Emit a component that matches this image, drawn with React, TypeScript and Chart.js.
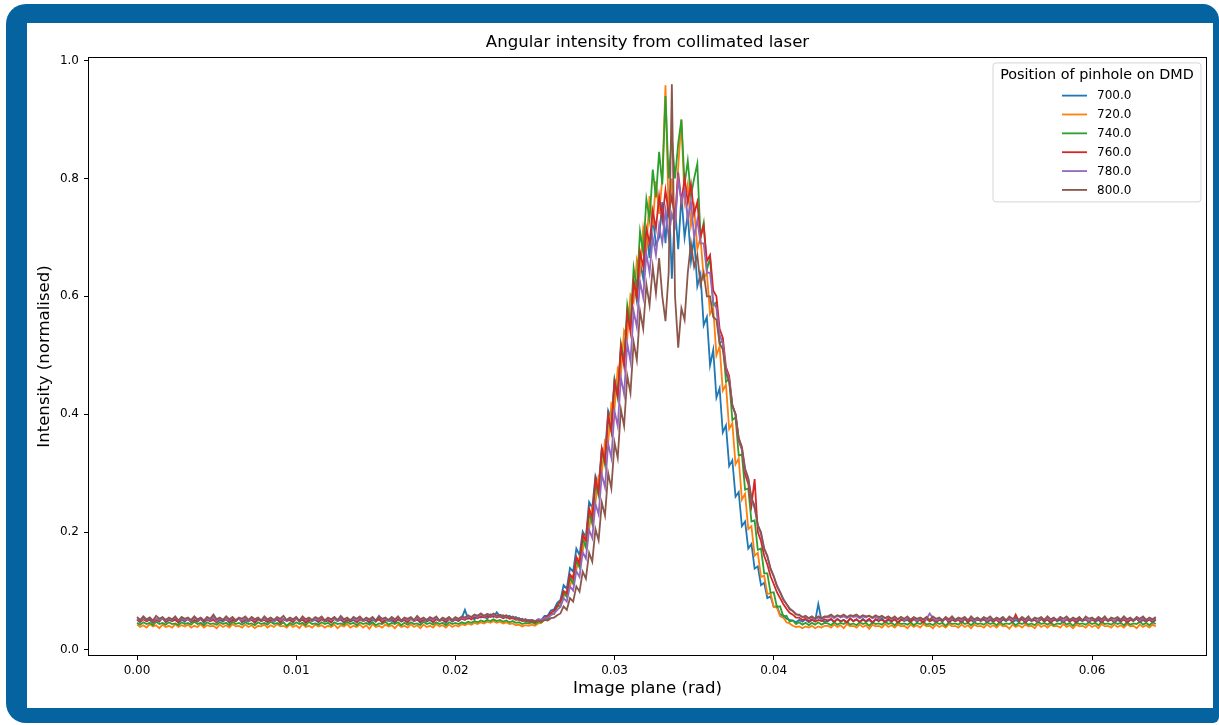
import React, { useEffect, useRef } from "react";
import { Chart, registerables } from "chart.js";

Chart.register(...registerables);

const FONT = "'DejaVu Sans', 'Liberation Sans', sans-serif";

const chartTitle = "Angular intensity from collimated laser";
const xAxisTitle = "Image plane (rad)";
const yAxisTitle = "Intensity (normalised)";
const legendTitle = "Position of pinhole on DMD";

const seriesLabels = ["700.0", "720.0", "740.0", "760.0", "780.0", "800.0"];
const seriesColors = ["#1f77b4", "#ff7f0e", "#2ca02c", "#d62728", "#9467bd", "#8c564b"];

// detector sample grid (rad): 321 samples from 0 to 0.064
const xStart = 0;
const xStep = 0.0002;

const xTickValues = [0, 0.01, 0.02, 0.03, 0.04, 0.05, 0.06];
const yTickValues = [0, 0.2, 0.4, 0.6, 0.8, 1.0];

const intensity700 = [
  // 0.0000 - 0.0198
  0.052, 0.047, 0.054, 0.049, 0.051, 0.046, 0.053, 0.048, 0.055, 0.047,
  0.051, 0.049, 0.053, 0.046, 0.052, 0.048, 0.054, 0.047, 0.050, 0.048,
  0.053, 0.046, 0.052, 0.049, 0.055, 0.047, 0.051, 0.048, 0.053, 0.046,
  0.052, 0.049, 0.054, 0.047, 0.050, 0.048, 0.053, 0.046, 0.052, 0.049,
  0.051, 0.047, 0.054, 0.048, 0.052, 0.046, 0.053, 0.049, 0.051, 0.047,
  0.055, 0.048, 0.052, 0.046, 0.053, 0.049, 0.051, 0.047, 0.054, 0.048,
  0.050, 0.047, 0.053, 0.049, 0.052, 0.046, 0.054, 0.048, 0.051, 0.047,
  0.053, 0.049, 0.051, 0.046, 0.052, 0.048, 0.055, 0.047, 0.052, 0.049,
  0.050, 0.046, 0.053, 0.048, 0.051, 0.047, 0.054, 0.049, 0.052, 0.046,
  0.053, 0.048, 0.051, 0.047, 0.054, 0.049, 0.052, 0.046, 0.053, 0.048,
  // 0.0200 - 0.0246
  0.052, 0.049, 0.054, 0.068, 0.053, 0.056, 0.052, 0.058, 0.055, 0.057, 0.053, 0.060,
  0.056, 0.064, 0.057, 0.059, 0.055, 0.058, 0.054, 0.056, 0.051, 0.053, 0.049, 0.051,
  // 0.0248 - 0.0432
  0.050, 0.047, 0.052, 0.051, 0.058, 0.058, 0.067, 0.069, 0.080, 0.085,
  0.110, 0.104, 0.139, 0.133, 0.172, 0.161, 0.201, 0.191, 0.251, 0.241,
  0.295, 0.279, 0.342, 0.333, 0.406, 0.391, 0.459, 0.439, 0.510, 0.489,
  0.570, 0.550, 0.624, 0.592, 0.659, 0.630, 0.710, 0.665, 0.735, 0.688,
  0.700, 0.760, 0.690, 0.780, 0.630, 0.750, 0.680, 0.770, 0.700, 0.740,
  0.660, 0.700, 0.617, 0.637, 0.551, 0.565, 0.483, 0.509, 0.428, 0.444,
  0.369, 0.381, 0.312, 0.322, 0.260, 0.268, 0.210, 0.218, 0.172, 0.180,
  0.138, 0.142, 0.110, 0.114, 0.088, 0.091, 0.073, 0.074, 0.060, 0.059,
  0.053, 0.051, 0.050, 0.047, 0.051, 0.048, 0.052, 0.047, 0.051, 0.049,
  0.078, 0.050, 0.048,
  // 0.0434 - 0.0640
  0.049, 0.052, 0.047, 0.053, 0.048, 0.051, 0.046, 0.054, 0.049, 0.052,
  0.047, 0.053, 0.048, 0.051, 0.046, 0.052, 0.049, 0.054, 0.047, 0.051,
  0.048, 0.053, 0.046, 0.052, 0.049, 0.051, 0.047, 0.054, 0.048, 0.052,
  0.046, 0.053, 0.049, 0.051, 0.047, 0.052, 0.048, 0.055, 0.047, 0.051,
  0.049, 0.052, 0.046, 0.053, 0.048, 0.051, 0.047, 0.054, 0.049, 0.052,
  0.047, 0.051, 0.048, 0.053, 0.046, 0.052, 0.049, 0.054, 0.047, 0.051,
  0.048, 0.053, 0.046, 0.052, 0.049, 0.051, 0.047, 0.053, 0.048, 0.052,
  0.046, 0.054, 0.049, 0.051, 0.047, 0.052, 0.048, 0.053, 0.046, 0.051,
  0.049, 0.052, 0.047, 0.054, 0.048, 0.051, 0.046, 0.053, 0.049, 0.052,
  0.047, 0.051, 0.048, 0.053, 0.046, 0.052, 0.049, 0.054, 0.047, 0.051,
  0.048, 0.053, 0.047, 0.051,
];

const intensity720 = [
  // 0.0000 - 0.0198
  0.043, 0.039, 0.042, 0.038, 0.044, 0.040, 0.042, 0.037, 0.043, 0.039,
  0.041, 0.038, 0.044, 0.039, 0.042, 0.040, 0.043, 0.038, 0.041, 0.039,
  0.044, 0.038, 0.042, 0.040, 0.041, 0.037, 0.043, 0.039, 0.042, 0.038,
  0.044, 0.040, 0.041, 0.038, 0.043, 0.039, 0.042, 0.037, 0.041, 0.040,
  0.043, 0.038, 0.042, 0.039, 0.044, 0.040, 0.041, 0.038, 0.043, 0.039,
  0.042, 0.037, 0.044, 0.039, 0.041, 0.038, 0.043, 0.040, 0.042, 0.038,
  0.041, 0.039, 0.043, 0.037, 0.042, 0.040, 0.044, 0.038, 0.041, 0.039,
  0.043, 0.038, 0.042, 0.036, 0.044, 0.039, 0.041, 0.038, 0.043, 0.040,
  0.042, 0.037, 0.043, 0.039, 0.041, 0.038, 0.044, 0.039, 0.042, 0.037,
  0.043, 0.039, 0.041, 0.038, 0.044, 0.040, 0.042, 0.038, 0.043, 0.039,
  // 0.0200 - 0.0246
  0.042, 0.040, 0.044, 0.042, 0.045, 0.043, 0.046, 0.044, 0.047, 0.045, 0.048, 0.046,
  0.049, 0.046, 0.048, 0.045, 0.047, 0.044, 0.045, 0.042, 0.043, 0.040, 0.042, 0.041,
  // 0.0248 - 0.0432
  0.043, 0.041, 0.045, 0.046, 0.051, 0.053, 0.061, 0.062, 0.073, 0.076,
  0.090, 0.100, 0.108, 0.128, 0.136, 0.158, 0.168, 0.196, 0.205, 0.243,
  0.250, 0.296, 0.300, 0.356, 0.352, 0.418, 0.410, 0.478, 0.468, 0.542,
  0.530, 0.602, 0.590, 0.662, 0.640, 0.715, 0.680, 0.770, 0.720, 0.795,
  0.740, 0.800, 0.958, 0.740, 0.800, 0.720, 0.820, 0.900, 0.760, 0.790,
  0.720, 0.750, 0.680, 0.700, 0.630, 0.640, 0.570, 0.580, 0.500, 0.515,
  0.440, 0.450, 0.375, 0.385, 0.315, 0.325, 0.255, 0.265, 0.205, 0.210,
  0.160, 0.165, 0.124, 0.126, 0.095, 0.096, 0.073, 0.072, 0.057, 0.055,
  0.047, 0.045, 0.041, 0.039, 0.040, 0.037, 0.040, 0.038, 0.041, 0.037,
  0.040, 0.038, 0.041,
  // 0.0434 - 0.0640
  0.041, 0.038, 0.043, 0.039, 0.042, 0.037, 0.044, 0.040, 0.041, 0.038,
  0.043, 0.039, 0.042, 0.036, 0.043, 0.040, 0.041, 0.038, 0.044, 0.039,
  0.042, 0.038, 0.043, 0.040, 0.041, 0.037, 0.043, 0.039, 0.042, 0.038,
  0.044, 0.040, 0.041, 0.037, 0.043, 0.039, 0.042, 0.038, 0.044, 0.040,
  0.041, 0.038, 0.043, 0.039, 0.042, 0.037, 0.043, 0.040, 0.041, 0.038,
  0.043, 0.039, 0.042, 0.038, 0.044, 0.040, 0.041, 0.036, 0.043, 0.039,
  0.042, 0.038, 0.043, 0.040, 0.041, 0.037, 0.044, 0.039, 0.042, 0.038,
  0.043, 0.040, 0.041, 0.038, 0.044, 0.039, 0.042, 0.037, 0.043, 0.040,
  0.041, 0.038, 0.043, 0.039, 0.042, 0.037, 0.044, 0.040, 0.041, 0.038,
  0.043, 0.039, 0.042, 0.038, 0.044, 0.040, 0.041, 0.037, 0.043, 0.039,
  0.042, 0.038, 0.043, 0.040,
];

const intensity740 = [
  // 0.0000 - 0.0198
  0.046, 0.043, 0.047, 0.044, 0.046, 0.042, 0.048, 0.044, 0.046, 0.043,
  0.047, 0.044, 0.045, 0.042, 0.047, 0.044, 0.046, 0.043, 0.048, 0.044,
  0.046, 0.042, 0.047, 0.044, 0.045, 0.043, 0.047, 0.044, 0.046, 0.042,
  0.048, 0.044, 0.046, 0.043, 0.047, 0.044, 0.045, 0.042, 0.047, 0.044,
  0.046, 0.043, 0.048, 0.044, 0.046, 0.043, 0.047, 0.041, 0.046, 0.043,
  0.047, 0.044, 0.046, 0.042, 0.048, 0.044, 0.045, 0.043, 0.047, 0.044,
  0.046, 0.042, 0.047, 0.044, 0.045, 0.043, 0.048, 0.044, 0.046, 0.042,
  0.047, 0.044, 0.046, 0.043, 0.047, 0.042, 0.045, 0.044, 0.048, 0.043,
  0.046, 0.044, 0.047, 0.042, 0.046, 0.043, 0.047, 0.044, 0.045, 0.042,
  0.048, 0.044, 0.046, 0.043, 0.047, 0.044, 0.046, 0.042, 0.047, 0.044,
  // 0.0200 - 0.0246
  0.046, 0.044, 0.047, 0.045, 0.048, 0.046, 0.049, 0.047, 0.050, 0.048, 0.051, 0.049,
  0.052, 0.049, 0.051, 0.048, 0.050, 0.047, 0.049, 0.046, 0.047, 0.044, 0.046, 0.045,
  // 0.0248 - 0.0432
  0.047, 0.044, 0.048, 0.047, 0.054, 0.052, 0.062, 0.061, 0.075, 0.074,
  0.098, 0.090, 0.124, 0.112, 0.152, 0.140, 0.190, 0.174, 0.232, 0.214,
  0.282, 0.262, 0.338, 0.314, 0.396, 0.370, 0.458, 0.428, 0.520, 0.490,
  0.585, 0.552, 0.648, 0.612, 0.710, 0.675, 0.765, 0.730, 0.815, 0.768,
  0.845, 0.790, 0.940, 0.800, 0.870, 0.800, 0.860, 0.900, 0.790, 0.830,
  0.770, 0.800, 0.825, 0.700, 0.725, 0.645, 0.665, 0.585, 0.590, 0.520,
  0.525, 0.455, 0.460, 0.390, 0.395, 0.330, 0.332, 0.272, 0.274, 0.218,
  0.220, 0.170, 0.172, 0.130, 0.130, 0.097, 0.098, 0.073, 0.074, 0.057,
  0.058, 0.048, 0.050, 0.044, 0.047, 0.043, 0.046, 0.042, 0.046, 0.043,
  0.047, 0.043, 0.046,
  // 0.0434 - 0.0640
  0.045, 0.042, 0.047, 0.043, 0.046, 0.044, 0.048, 0.043, 0.045, 0.042,
  0.047, 0.044, 0.046, 0.041, 0.047, 0.044, 0.045, 0.043, 0.048, 0.044,
  0.046, 0.042, 0.047, 0.044, 0.045, 0.043, 0.047, 0.042, 0.046, 0.044,
  0.048, 0.043, 0.045, 0.042, 0.047, 0.044, 0.046, 0.041, 0.047, 0.044,
  0.045, 0.043, 0.048, 0.044, 0.046, 0.042, 0.047, 0.044, 0.045, 0.043,
  0.047, 0.044, 0.046, 0.042, 0.048, 0.043, 0.045, 0.044, 0.047, 0.042,
  0.046, 0.044, 0.047, 0.043, 0.045, 0.042, 0.048, 0.044, 0.046, 0.043,
  0.047, 0.042, 0.045, 0.044, 0.048, 0.043, 0.046, 0.041, 0.047, 0.044,
  0.045, 0.043, 0.047, 0.044, 0.046, 0.042, 0.048, 0.044, 0.045, 0.043,
  0.047, 0.044, 0.046, 0.042, 0.047, 0.043, 0.045, 0.044, 0.048, 0.043,
  0.046, 0.042, 0.047, 0.044,
];

const intensity760 = [
  // 0.0000 - 0.0198
  0.051, 0.048, 0.052, 0.049, 0.053, 0.047, 0.051, 0.049, 0.054, 0.048,
  0.052, 0.049, 0.051, 0.047, 0.053, 0.050, 0.052, 0.048, 0.051, 0.049,
  0.053, 0.048, 0.052, 0.049, 0.051, 0.047, 0.053, 0.050, 0.052, 0.048,
  0.051, 0.049, 0.054, 0.048, 0.052, 0.049, 0.051, 0.047, 0.053, 0.049,
  0.052, 0.048, 0.051, 0.049, 0.053, 0.047, 0.052, 0.050, 0.051, 0.048,
  0.053, 0.049, 0.052, 0.047, 0.051, 0.049, 0.054, 0.048, 0.052, 0.049,
  0.051, 0.047, 0.053, 0.050, 0.052, 0.048, 0.051, 0.049, 0.053, 0.047,
  0.052, 0.049, 0.051, 0.048, 0.054, 0.049, 0.052, 0.047, 0.051, 0.050,
  0.053, 0.048, 0.052, 0.049, 0.051, 0.047, 0.053, 0.049, 0.052, 0.048,
  0.051, 0.049, 0.053, 0.047, 0.052, 0.050, 0.051, 0.048, 0.053, 0.049,
  // 0.0200 - 0.0246
  0.052, 0.050, 0.053, 0.051, 0.055, 0.052, 0.056, 0.054, 0.057, 0.055, 0.058, 0.056,
  0.058, 0.055, 0.057, 0.054, 0.056, 0.053, 0.054, 0.051, 0.052, 0.049, 0.050, 0.048,
  // 0.0248 - 0.0432
  0.049, 0.047, 0.051, 0.050, 0.055, 0.057, 0.063, 0.067, 0.075, 0.082,
  0.100, 0.096, 0.128, 0.121, 0.158, 0.146, 0.195, 0.186, 0.240, 0.224,
  0.290, 0.268, 0.342, 0.320, 0.398, 0.372, 0.455, 0.430, 0.515, 0.482,
  0.572, 0.540, 0.625, 0.600, 0.675, 0.650, 0.715, 0.690, 0.745, 0.715,
  0.770, 0.730, 0.780, 0.740, 0.770, 0.730, 0.810, 0.760, 0.800, 0.760,
  0.790, 0.740, 0.760, 0.700, 0.720, 0.660, 0.670, 0.610, 0.600, 0.545,
  0.530, 0.480, 0.465, 0.415, 0.400, 0.355, 0.340, 0.298, 0.282, 0.245,
  0.290, 0.200, 0.185, 0.160, 0.145, 0.125, 0.112, 0.098, 0.088, 0.078,
  0.070, 0.063, 0.060, 0.055, 0.055, 0.051, 0.053, 0.049, 0.052, 0.048,
  0.051, 0.049, 0.052,
  // 0.0434 - 0.0640
  0.050, 0.053, 0.048, 0.052, 0.049, 0.051, 0.047, 0.053, 0.049, 0.052,
  0.048, 0.051, 0.049, 0.053, 0.047, 0.052, 0.050, 0.051, 0.048, 0.053,
  0.049, 0.052, 0.047, 0.051, 0.050, 0.053, 0.048, 0.052, 0.049, 0.051,
  0.047, 0.053, 0.049, 0.052, 0.048, 0.051, 0.050, 0.053, 0.047, 0.052,
  0.049, 0.051, 0.048, 0.053, 0.047, 0.052, 0.049, 0.051, 0.050, 0.053,
  0.048, 0.052, 0.049, 0.051, 0.047, 0.053, 0.050, 0.052, 0.048, 0.060,
  0.049, 0.053, 0.047, 0.052, 0.050, 0.051, 0.048, 0.053, 0.049, 0.052,
  0.047, 0.051, 0.050, 0.053, 0.048, 0.052, 0.049, 0.051, 0.047, 0.053,
  0.050, 0.052, 0.048, 0.051, 0.049, 0.053, 0.047, 0.052, 0.050, 0.051,
  0.048, 0.053, 0.049, 0.052, 0.047, 0.051, 0.050, 0.053, 0.048, 0.052,
  0.049, 0.051, 0.048, 0.053,
];

const intensity780 = [
  // 0.0000 - 0.0198
  0.053, 0.050, 0.054, 0.051, 0.055, 0.049, 0.053, 0.051, 0.054, 0.050,
  0.053, 0.051, 0.055, 0.050, 0.054, 0.051, 0.053, 0.049, 0.055, 0.051,
  0.054, 0.050, 0.053, 0.051, 0.055, 0.049, 0.054, 0.051, 0.053, 0.050,
  0.055, 0.051, 0.053, 0.050, 0.054, 0.049, 0.053, 0.051, 0.055, 0.050,
  0.053, 0.051, 0.054, 0.049, 0.055, 0.051, 0.053, 0.050, 0.054, 0.051,
  0.053, 0.050, 0.055, 0.051, 0.054, 0.049, 0.053, 0.051, 0.055, 0.050,
  0.054, 0.051, 0.053, 0.049, 0.055, 0.050, 0.054, 0.051, 0.053, 0.050,
  0.055, 0.049, 0.053, 0.051, 0.054, 0.050, 0.058, 0.051, 0.053, 0.049,
  0.054, 0.051, 0.055, 0.050, 0.053, 0.051, 0.054, 0.049, 0.055, 0.051,
  0.053, 0.050, 0.054, 0.051, 0.055, 0.049, 0.053, 0.051, 0.054, 0.050,
  // 0.0200 - 0.0246
  0.054, 0.052, 0.055, 0.053, 0.057, 0.055, 0.058, 0.056, 0.060, 0.057, 0.061, 0.058,
  0.060, 0.057, 0.059, 0.056, 0.058, 0.055, 0.056, 0.053, 0.054, 0.051, 0.052, 0.050,
  // 0.0248 - 0.0432
  0.051, 0.049, 0.052, 0.051, 0.054, 0.055, 0.059, 0.062, 0.068, 0.073,
  0.088, 0.082, 0.108, 0.101, 0.134, 0.124, 0.166, 0.155, 0.204, 0.190,
  0.248, 0.230, 0.298, 0.276, 0.350, 0.326, 0.405, 0.380, 0.462, 0.434,
  0.520, 0.490, 0.575, 0.548, 0.625, 0.598, 0.672, 0.640, 0.700, 0.670,
  0.720, 0.690, 0.745, 0.700, 0.740, 0.720, 0.800, 0.760, 0.780, 0.730,
  0.760, 0.700, 0.730, 0.690, 0.690, 0.640, 0.640, 0.590, 0.580, 0.535,
  0.520, 0.475, 0.460, 0.415, 0.400, 0.358, 0.342, 0.305, 0.290, 0.255,
  0.240, 0.212, 0.196, 0.172, 0.158, 0.138, 0.125, 0.110, 0.098, 0.087,
  0.078, 0.071, 0.066, 0.061, 0.059, 0.056, 0.056, 0.053, 0.055, 0.052,
  0.055, 0.052, 0.056,
  // 0.0434 - 0.0640
  0.055, 0.057, 0.054, 0.058, 0.055, 0.057, 0.054, 0.058, 0.056, 0.057,
  0.054, 0.057, 0.055, 0.058, 0.054, 0.056, 0.053, 0.057, 0.054, 0.056,
  0.053, 0.055, 0.052, 0.056, 0.051, 0.054, 0.052, 0.055, 0.050, 0.054,
  0.051, 0.053, 0.062, 0.054, 0.050, 0.053, 0.051, 0.055, 0.050, 0.054,
  0.051, 0.053, 0.050, 0.055, 0.051, 0.054, 0.049, 0.053, 0.051, 0.055,
  0.050, 0.054, 0.051, 0.053, 0.049, 0.055, 0.051, 0.054, 0.050, 0.053,
  0.051, 0.055, 0.050, 0.054, 0.051, 0.053, 0.049, 0.055, 0.051, 0.054,
  0.050, 0.053, 0.051, 0.055, 0.049, 0.054, 0.051, 0.053, 0.050, 0.055,
  0.051, 0.054, 0.049, 0.053, 0.051, 0.055, 0.050, 0.054, 0.051, 0.053,
  0.049, 0.055, 0.051, 0.054, 0.050, 0.053, 0.051, 0.055, 0.050, 0.054,
  0.051, 0.053, 0.050, 0.054,
];

const intensity800 = [
  // 0.0000 - 0.0198
  0.056, 0.051, 0.057, 0.052, 0.055, 0.050, 0.058, 0.053, 0.056, 0.051,
  0.055, 0.052, 0.057, 0.050, 0.056, 0.053, 0.055, 0.051, 0.057, 0.052,
  0.055, 0.050, 0.056, 0.053, 0.060, 0.052, 0.055, 0.051, 0.057, 0.052,
  0.056, 0.050, 0.055, 0.053, 0.057, 0.051, 0.056, 0.052, 0.055, 0.050,
  0.057, 0.052, 0.055, 0.051, 0.056, 0.053, 0.058, 0.051, 0.055, 0.052,
  0.056, 0.050, 0.057, 0.052, 0.055, 0.051, 0.056, 0.053, 0.057, 0.050,
  0.055, 0.052, 0.056, 0.051, 0.058, 0.052, 0.055, 0.050, 0.056, 0.053,
  0.057, 0.051, 0.055, 0.052, 0.056, 0.050, 0.057, 0.053, 0.055, 0.051,
  0.056, 0.052, 0.057, 0.050, 0.055, 0.053, 0.056, 0.051, 0.058, 0.052,
  0.055, 0.051, 0.056, 0.053, 0.057, 0.050, 0.055, 0.052, 0.056, 0.051,
  // 0.0200 - 0.0246
  0.056, 0.053, 0.057, 0.055, 0.059, 0.056, 0.060, 0.058, 0.062, 0.058, 0.061, 0.059,
  0.062, 0.058, 0.060, 0.057, 0.059, 0.055, 0.057, 0.053, 0.054, 0.050, 0.052, 0.049,
  // 0.0248 - 0.0432
  0.051, 0.049, 0.050, 0.048, 0.051, 0.050, 0.054, 0.055, 0.059, 0.062,
  0.074, 0.068, 0.088, 0.082, 0.108, 0.099, 0.133, 0.121, 0.165, 0.150,
  0.205, 0.186, 0.250, 0.228, 0.300, 0.274, 0.352, 0.326, 0.408, 0.380,
  0.465, 0.436, 0.522, 0.492, 0.575, 0.545, 0.620, 0.585, 0.650, 0.605,
  0.665, 0.600, 0.558, 0.640, 0.960, 0.600, 0.513, 0.580, 0.560, 0.640,
  0.690, 0.650, 0.670, 0.620, 0.640, 0.600, 0.600, 0.565, 0.560, 0.520,
  0.510, 0.470, 0.455, 0.415, 0.400, 0.360, 0.345, 0.308, 0.292, 0.258,
  0.245, 0.212, 0.200, 0.172, 0.160, 0.138, 0.125, 0.108, 0.098, 0.085,
  0.078, 0.069, 0.066, 0.060, 0.060, 0.056, 0.058, 0.054, 0.057, 0.053,
  0.057, 0.054, 0.057,
  // 0.0434 - 0.0640
  0.057, 0.060, 0.056, 0.059, 0.057, 0.060, 0.056, 0.059, 0.058, 0.060,
  0.056, 0.059, 0.057, 0.058, 0.055, 0.059, 0.056, 0.058, 0.054, 0.057,
  0.053, 0.057, 0.052, 0.056, 0.053, 0.057, 0.051, 0.056, 0.053, 0.055,
  0.052, 0.056, 0.051, 0.057, 0.053, 0.055, 0.050, 0.056, 0.052, 0.057,
  0.051, 0.055, 0.053, 0.056, 0.050, 0.057, 0.052, 0.055, 0.051, 0.056,
  0.053, 0.057, 0.051, 0.055, 0.052, 0.056, 0.050, 0.057, 0.053, 0.055,
  0.051, 0.056, 0.052, 0.057, 0.050, 0.055, 0.053, 0.056, 0.051, 0.057,
  0.052, 0.055, 0.050, 0.056, 0.053, 0.057, 0.051, 0.055, 0.052, 0.056,
  0.050, 0.057, 0.053, 0.055, 0.051, 0.056, 0.052, 0.057, 0.050, 0.055,
  0.053, 0.056, 0.051, 0.057, 0.052, 0.055, 0.050, 0.056, 0.053, 0.057,
  0.051, 0.055, 0.052, 0.056,
];

const seriesValues = [intensity700, intensity720, intensity740, intensity760, intensity780, intensity800];

const frameBoxPlugin = {
  id: "frameBox",
  afterDatasetsDraw(chart: any) {
    const { ctx, chartArea } = chart;
    ctx.save();
    ctx.strokeStyle = "#000";
    ctx.lineWidth = 1;
    const l = Math.round(chartArea.left) + 0.5;
    const t = Math.round(chartArea.top) + 0.5;
    const r = Math.round(chartArea.right) - 0.5;
    const b = Math.round(chartArea.bottom) - 0.5;
    ctx.strokeRect(l, t, r - l, b - t);
    ctx.restore();
  },
};

const mplLegendPlugin = {
  id: "mplLegend",
  afterDraw(chart: any) {
    const { ctx, chartArea } = chart;
    const boxW = 208;
    const boxH = 139;
    const x0 = chartArea.right - 6 - boxW;
    const y0 = chartArea.top + 6;
    ctx.save();
    const rad = 3;
    ctx.beginPath();
    ctx.moveTo(x0 + rad, y0);
    ctx.lineTo(x0 + boxW - rad, y0);
    ctx.arcTo(x0 + boxW, y0, x0 + boxW, y0 + rad, rad);
    ctx.lineTo(x0 + boxW, y0 + boxH - rad);
    ctx.arcTo(x0 + boxW, y0 + boxH, x0 + boxW - rad, y0 + boxH, rad);
    ctx.lineTo(x0 + rad, y0 + boxH);
    ctx.arcTo(x0, y0 + boxH, x0, y0 + boxH - rad, rad);
    ctx.lineTo(x0, y0 + rad);
    ctx.arcTo(x0, y0, x0 + rad, y0, rad);
    ctx.closePath();
    ctx.fillStyle = "rgba(255,255,255,0.8)";
    ctx.fill();
    ctx.strokeStyle = "#d5d5d5";
    ctx.lineWidth = 1;
    ctx.stroke();
    ctx.fillStyle = "#000";
    ctx.font = `14.4px ${FONT}`;
    ctx.textAlign = "center";
    ctx.textBaseline = "middle";
    ctx.fillText(legendTitle, x0 + boxW / 2, y0 + 12.7);
    ctx.font = `12px ${FONT}`;
    ctx.textAlign = "left";
    chart.data.datasets.forEach((ds: any, i: number) => {
      const yy = y0 + 32.7 + i * 18.86;
      ctx.strokeStyle = ds.borderColor;
      ctx.lineWidth = 1.8;
      ctx.beginPath();
      ctx.moveTo(x0 + 69, yy);
      ctx.lineTo(x0 + 94, yy);
      ctx.stroke();
      ctx.fillStyle = "#000";
      ctx.fillText(ds.label, x0 + 104, yy + 0.5);
    });
    ctx.restore();
  },
};

function ChartCanvas() {
  const ref = useRef<HTMLCanvasElement | null>(null);

  useEffect(() => {
    if (!ref.current) return;
    const datasets = seriesValues.map((vals, i) => ({
      label: seriesLabels[i],
      data: vals.map((v, k) => ({ x: xStart + k * xStep, y: v })),
      borderColor: seriesColors[i],
      backgroundColor: seriesColors[i],
      borderWidth: 1.8,
      pointRadius: 0,
      tension: 0,
      fill: false,
      order: seriesLabels.length - 1 - i,
    }));

    const chart = new Chart(ref.current, {
      type: "line",
      data: { datasets },
      options: {
        animation: false,
        responsive: false,
        devicePixelRatio: 1,
        layout: { padding: { left: 0, right: 6, top: 0, bottom: 0 } },
        plugins: {
          legend: { display: false },
          tooltip: { enabled: false },
          title: {
            display: true,
            text: chartTitle,
            fullSize: false,
            color: "#000",
            font: { family: FONT, size: 16.6, weight: "normal" },
            padding: { top: 10, bottom: 4 },
          },
        },
        scales: {
          x: {
            type: "linear",
            min: -0.00308,
            max: 0.06722,
            afterBuildTicks: (scale: any) => {
              scale.ticks = xTickValues.map((v) => ({ value: v }));
            },
            afterFit: (scale: any) => {
              scale.height = 52;
            },
            ticks: {
              autoSkip: false,
              maxRotation: 0,
              color: "#000",
              padding: 4,
              font: { family: FONT, size: 12 },
              callback: (v: any) => Number(v).toFixed(2),
            },
            grid: { display: true, drawOnChartArea: false, drawTicks: true, tickLength: 4, color: "#000" },
            border: { display: false },
            title: {
              display: true,
              text: xAxisTitle,
              color: "#000",
              font: { family: FONT, size: 16.6 },
              padding: { top: 0, bottom: 9 },
            },
          },
          y: {
            type: "linear",
            min: -0.0102,
            max: 1.0062,
            afterBuildTicks: (scale: any) => {
              scale.ticks = yTickValues.map((v) => ({ value: v }));
            },
            afterFit: (scale: any) => {
              scale.width = 61;
            },
            ticks: {
              autoSkip: false,
              color: "#000",
              padding: 5,
              font: { family: FONT, size: 12 },
              callback: (v: any) => Number(v).toFixed(1),
            },
            grid: { display: true, drawOnChartArea: false, drawTicks: true, tickLength: 4, color: "#000" },
            border: { display: false },
            title: {
              display: true,
              text: yAxisTitle,
              color: "#000",
              font: { family: FONT, size: 16.6 },
              padding: { top: 8, bottom: 0 },
            },
          },
        },
      } as any,
      plugins: [frameBoxPlugin, mplLegendPlugin],
    });
    return () => chart.destroy();
  }, []);

  return <canvas ref={ref} width={1186} height={685} style={{ display: "block", width: 1186, height: 685 }} />;
}

export default function App() {
  return (
    <div style={{ position: "absolute", left: 0, top: 0, width: 1219, height: 725, background: "#fff", overflow: "hidden" }}>
      <div
        style={{
          position: "absolute",
          left: 6,
          top: 4,
          width: 1213,
          height: 719,
          background: "#0563a0",
          borderRadius: "20px 16px 6px 20px",
        }}
      />
      <div style={{ position: "absolute", left: 27, top: 23, width: 1186, height: 685, background: "#fff" }}>
        <ChartCanvas />
      </div>
    </div>
  );
}
